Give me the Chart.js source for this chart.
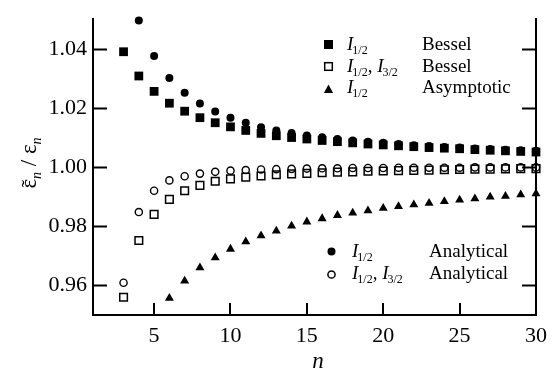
<!DOCTYPE html>
<html>
<head>
<meta charset="utf-8">
<script src="https://cdn.jsdelivr.net/npm/chart.js@4.4.1/dist/chart.umd.min.js"></script>
<style>
  html, body { margin: 0; padding: 0; background: #fff; }
  #wrap { width: 555px; height: 384px; font-family: "Liberation Serif", "DejaVu Serif", serif; }
</style>
</head>
<body>
<div id="wrap"><canvas id="chart" width="555" height="384"></canvas></div>
<script>
// n values for each series
const nBessel = [3, 4, 5, 6, 7, 8, 9, 10, 11, 12, 13, 14, 15, 16, 17, 18, 19, 20, 21, 22, 23, 24, 25, 26, 27, 28, 29, 30];
const nAnalytic12 = [4, 5, 6, 7, 8, 9, 10, 11, 12, 13, 14, 15, 16, 17, 18, 19, 20, 21, 22, 23, 24, 25, 26, 27, 28, 29, 30];
const nAsymptotic = [6, 7, 8, 9, 10, 11, 12, 13, 14, 15, 16, 17, 18, 19, 20, 21, 22, 23, 24, 25, 26, 27, 28, 29, 30];

// I_1/2 Bessel (filled squares)
const besselI12 = [1.0390, 1.0308, 1.0256, 1.0216, 1.0189, 1.0167, 1.0150, 1.0136, 1.0124, 1.0114,
  1.0106, 1.0100, 1.0095, 1.0090, 1.0086, 1.0082, 1.0078, 1.0075, 1.0072, 1.0069,
  1.0066, 1.0064, 1.0062, 1.0059, 1.0057, 1.0055, 1.0053, 1.0051];
// I_1/2, I_3/2 Bessel (open squares)
const besselI12I32 = [0.9560, 0.9752, 0.9840, 0.9891, 0.9920, 0.9938, 0.9952, 0.9960, 0.9966, 0.9970,
  0.9974, 0.9977, 0.9979, 0.9981, 0.9983, 0.9984, 0.9986, 0.9987, 0.9988, 0.9989,
  0.9990, 0.9991, 0.9992, 0.9993, 0.9993, 0.9994, 0.9995, 0.9995];
// I_1/2 Asymptotic (triangles)
const asymptoticI12 = [0.9557, 0.9615, 0.9660, 0.9694, 0.9723, 0.9748, 0.9768, 0.9784, 0.9801, 0.9815,
  0.9826, 0.9837, 0.9845, 0.9853, 0.9861, 0.9867, 0.9873, 0.9878, 0.9884, 0.9889,
  0.9893, 0.9899, 0.9902, 0.9907, 0.9910];
// I_1/2 Analytical (filled circles)
const analyticI12 = [1.0496, 1.0376, 1.0301, 1.0251, 1.0215, 1.0188, 1.0167, 1.0150, 1.0135, 1.0124,
  1.0115, 1.0107, 1.0101, 1.0095, 1.0090, 1.0086, 1.0082, 1.0078, 1.0074, 1.0071,
  1.0068, 1.0066, 1.0063, 1.0061, 1.0059, 1.0057, 1.0055];
// I_1/2, I_3/2 Analytical (open circles)
const analyticI12I32 = [0.9609, 0.9848, 0.9920, 0.9955, 0.9969, 0.9978, 0.9984, 0.9988, 0.9990, 0.9992,
  0.9993, 0.9994, 0.9995, 0.9996, 0.9996, 0.9997, 0.9997, 0.9997, 0.9998, 0.9998,
  0.9998, 0.9998, 0.9998, 0.9999, 0.9999, 0.9999, 0.9999, 0.9999];

const xTicks = [5, 10, 15, 20, 25, 30];
const yTicks = [0.96, 0.98, 1.00, 1.02, 1.04];

const serif = "'Liberation Serif', 'DejaVu Serif', serif";

const pts = (ns, ys) => ns.map((n, i) => ({ x: n, y: ys[i] }));

function drawRich(ctx, x, y, parts) {
  for (const p of parts) {
    ctx.font = p.font;
    ctx.fillText(p.text, x + (p.dx || 0), y + (p.dy || 0));
    x += ctx.measureText(p.text).width + (p.dx || 0);
  }
  return x;
}

const symI = sub => [
  { text: 'I', font: 'italic 19px ' + serif },
  { text: sub, font: '12px ' + serif, dy: 4, dx: -1 }
];

function marker(ctx, kind, x, y) {
  ctx.save();
  ctx.fillStyle = '#000';
  ctx.strokeStyle = '#000';
  ctx.lineWidth = 1.5;
  ctx.beginPath();
  if (kind === 'fsq') {
    ctx.fillRect(x - 4.5, y - 4.5, 9, 9);
  } else if (kind === 'osq') {
    ctx.strokeRect(x - 3.8, y - 3.8, 7.6, 7.6);
  } else if (kind === 'tri') {
    ctx.moveTo(x, y - 5);
    ctx.lineTo(x + 4.6, y + 3.5);
    ctx.lineTo(x - 4.6, y + 3.5);
    ctx.closePath();
    ctx.fill();
  } else if (kind === 'fci') {
    ctx.arc(x, y, 4, 0, Math.PI * 2);
    ctx.fill();
  } else if (kind === 'oci') {
    ctx.arc(x, y, 3.6, 0, Math.PI * 2);
    ctx.stroke();
  }
  ctx.restore();
}

const decorations = {
  id: 'decorations',
  afterDraw(chart) {
    const ctx = chart.ctx;
    const a = chart.chartArea;
    const xs = chart.scales.x, ys = chart.scales.y;
    ctx.save();
    // inward tick marks
    ctx.strokeStyle = '#000';
    ctx.lineWidth = 2;
    ctx.beginPath();
    yTicks.forEach(v => {
      const py = Math.round(ys.getPixelForValue(v)) + 0.5;
      ctx.moveTo(a.left, py); ctx.lineTo(a.left + 14, py);
      ctx.moveTo(a.right, py); ctx.lineTo(a.right - 14, py);
    });
    xTicks.forEach(v => {
      const px = Math.round(xs.getPixelForValue(v));
      ctx.moveTo(px, a.bottom); ctx.lineTo(px, a.bottom - 12);
    });
    ctx.stroke();

    ctx.fillStyle = '#000';
    ctx.textBaseline = 'alphabetic';
    ctx.textAlign = 'left';

    // upper legend
    marker(ctx, 'fsq', 328.5, 44.5);
    drawRich(ctx, 347, 49.5, symI('1/2'));
    marker(ctx, 'osq', 328.5, 66.5);
    let x = drawRich(ctx, 347, 71.5, symI('1/2'));
    x = drawRich(ctx, x, 71.5, [{ text: ', ', font: '19px ' + serif }]);
    drawRich(ctx, x, 71.5, symI('3/2'));
    marker(ctx, 'tri', 328.5, 89.5);
    drawRich(ctx, 347, 93, symI('1/2'));
    ctx.font = '19px ' + serif;
    ctx.fillText('Bessel', 422, 49.5);
    ctx.fillText('Bessel', 422, 71.5);
    ctx.fillText('Asymptotic', 422, 93);

    // lower legend
    marker(ctx, 'fci', 331.5, 251.5);
    drawRich(ctx, 352, 257, symI('1/2'));
    marker(ctx, 'oci', 331.5, 274.5);
    x = drawRich(ctx, 352, 279, symI('1/2'));
    x = drawRich(ctx, x, 279, [{ text: ', ', font: '19px ' + serif }]);
    drawRich(ctx, x, 279, symI('3/2'));
    ctx.font = '19px ' + serif;
    ctx.fillText('Analytical', 429, 257);
    ctx.fillText('Analytical', 429, 279);

    // x axis title
    ctx.font = 'italic 23px ' + serif;
    ctx.textAlign = 'center';
    ctx.textBaseline = 'middle';
    ctx.fillText('n', 318, 362);

    // y axis title, rotated
    ctx.translate(36, 163);
    ctx.rotate(-Math.PI / 2);
    ctx.textBaseline = 'alphabetic';
    ctx.textAlign = 'left';
    const big = '23px ' + serif, small = 'italic 14px ' + serif;
    const parts = [
      { text: 'ε', font: big },
      { text: 'n', font: small, dy: 5 },
      { text: ' / ', font: big },
      { text: 'ε', font: big },
      { text: 'n', font: small, dy: 5 }
    ];
    let w = 0;
    parts.forEach(p => { ctx.font = p.font; w += ctx.measureText(p.text).width; });
    const x0 = -w / 2;
    ctx.font = big;
    const ew = ctx.measureText('ε').width;
    drawRich(ctx, x0, 0, parts);
    ctx.font = '22px ' + serif;
    ctx.textAlign = 'center';
    ctx.fillText('˜', x0 + ew / 2, 0);
    ctx.restore();
  }
};

function build() {
  new Chart(document.getElementById('chart'), {
    type: 'scatter',
    data: {
      datasets: [
        { label: 'I1/2 Bessel', data: pts(nBessel, besselI12), pointStyle: 'rect', pointRadius: 6.2,
          backgroundColor: '#000', borderColor: '#000', borderWidth: 0 },
        { label: 'I1/2, I3/2 Bessel', data: pts(nBessel, besselI12I32), pointStyle: 'rect', pointRadius: 5.4,
          backgroundColor: 'rgba(0,0,0,0)', borderColor: '#000', borderWidth: 1.5 },
        { label: 'I1/2 Asymptotic', data: pts(nAsymptotic, asymptoticI12), pointStyle: 'triangle', pointRadius: 5.2,
          backgroundColor: '#000', borderColor: '#000', borderWidth: 0 },
        { label: 'I1/2 Analytical', data: pts(nAnalytic12, analyticI12), pointStyle: 'circle', pointRadius: 4,
          backgroundColor: '#000', borderColor: '#000', borderWidth: 0 },
        { label: 'I1/2, I3/2 Analytical', data: pts(nBessel, analyticI12I32), pointStyle: 'circle', pointRadius: 3.6,
          backgroundColor: 'rgba(0,0,0,0)', borderColor: '#000', borderWidth: 1.4 }
      ]
    },
    options: {
      responsive: false,
      animation: false,
      clip: false,
      layout: { padding: { top: 8, left: 0, right: 0, bottom: 0 } },
      plugins: { legend: { display: false }, tooltip: { enabled: false } },
      scales: {
        x: {
          type: 'linear', min: 1, max: 30,
          afterBuildTicks: s => { s.ticks = xTicks.map(v => ({ value: v })); },
          afterFit: s => { s.height = 69; },
          grid: { display: false, drawTicks: false },
          border: { display: true, color: '#000', width: 2 },
          ticks: { color: '#000', padding: 8, font: { family: serif, size: 22 } }
        },
        y: {
          type: 'linear', min: 0.95, max: 1.05,
          afterBuildTicks: s => { s.ticks = yTicks.map(v => ({ value: v })); },
          afterFit: s => { s.width = 93; },
          grid: { display: false, drawTicks: false },
          border: { display: true, color: '#000', width: 2 },
          ticks: { color: '#000', padding: 6, font: { family: serif, size: 22 },
            callback: v => v.toFixed(2) }
        },
        y2: {
          type: 'linear', position: 'right', min: 0.95, max: 1.05,
          afterFit: s => { s.width = 13; },
          grid: { display: false, drawTicks: false },
          border: { display: true, color: '#000', width: 2 },
          ticks: { display: false }
        }
      }
    },
    plugins: [decorations]
  });
}

Promise.all([
  document.fonts.load("22px 'Liberation Serif'"),
  document.fonts.load("italic 22px 'Liberation Serif'")
]).catch(() => {}).then(build);
</script>
</body>
</html>
